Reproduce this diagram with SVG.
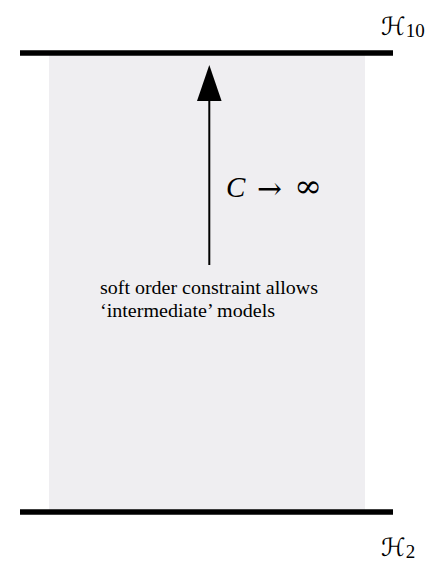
<svg xmlns="http://www.w3.org/2000/svg" width="432" height="564" viewBox="0 0 432 564">
<style>
.bar{stroke:#000;stroke-width:5.6;fill:none}
.lbl{font-family:"Liberation Serif","DejaVu Serif",serif;fill:#000}
.cal{font-family:"DejaVu Serif","DejaVu Sans",serif;font-style:italic;fill:#000}
.math{font-family:"DejaVu Serif","Liberation Serif",serif;fill:#000}
</style>
<rect id="region" x="49" y="53" width="316" height="459" fill="#efeef1"/>
<g id="H10">
<line class="bar" x1="20" y1="53" x2="393" y2="53"/>
<text class="cal" x="381" y="35" font-size="25">ℋ<tspan font-style="normal" font-family="Liberation Serif, serif" font-size="19" dy="2">10</tspan></text>
</g>
<g id="H2">
<line class="bar" x1="20" y1="512" x2="393" y2="512"/>
<text class="cal" x="381" y="556" font-size="25">ℋ<tspan font-style="normal" font-family="Liberation Serif, serif" font-size="19" dy="2">2</tspan></text>
</g>
<g id="connectors">
<line x1="209.3" y1="265" x2="209.3" y2="98" stroke="#000" stroke-width="2"/>
<polygon points="209.3,65 197,101 221.6,101" fill="#000"/>
<text class="lbl" x="226" y="197" font-size="29" font-style="italic">C</text>
<text class="math" x="257" y="199" font-size="30" textLength="25" lengthAdjust="spacingAndGlyphs">→</text>
<text class="math" x="294" y="197" font-size="32" textLength="28" lengthAdjust="spacingAndGlyphs">∞</text>
</g>
<g id="note">
<text class="lbl" x="100" y="294" font-size="18.5" textLength="218" lengthAdjust="spacingAndGlyphs">soft order constraint allows</text>
<text class="lbl" x="100" y="317" font-size="18.5" textLength="175" lengthAdjust="spacingAndGlyphs">‘intermediate’ models</text>
</g>
</svg>
